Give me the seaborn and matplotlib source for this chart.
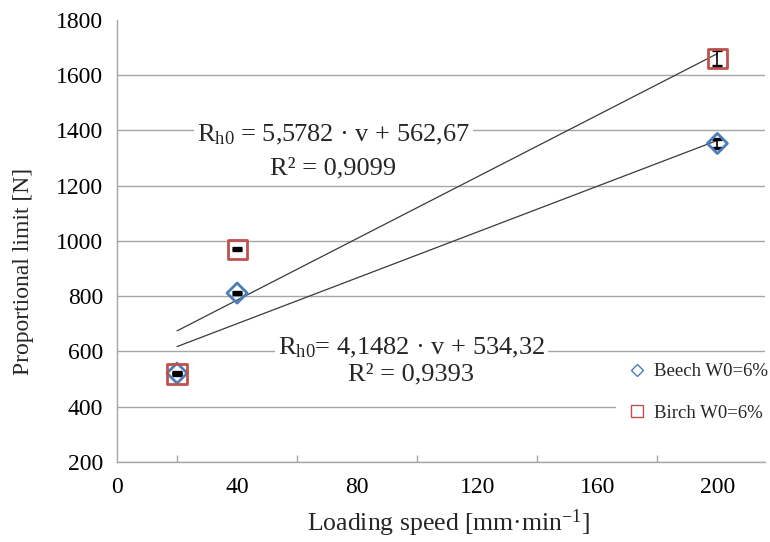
import numpy as np
import pandas as pd
import matplotlib
matplotlib.use("Agg")
import matplotlib.pyplot as plt
import seaborn as sns
from matplotlib.lines import Line2D

# Measured proportional limit at each loading speed
speed = [20, 40, 200]
beech = [521, 811, 1353]
birch = [518, 970, 1662]
beech_err = [4, 4, 15]
birch_err = [4, 4, 30]

# Linear trend coefficients (slope, intercept) and labels
beech_fit = (4.1482, 534.32)
birch_fit = (5.5782, 562.67)
beech_eq = ["R$_{\\mathrm{h0}}$= 4,1482 · v + 534,32", "R² = 0,9393"]
birch_eq = ["R$_{\\mathrm{h0}}$ = 5,5782 · v + 562,67", "R² = 0,9099"]

series_names = ["Beech W0=6%", "Birch W0=6%"]
series_colors = ["#4a7ebb", "#c0504d"]
x_ticks = [0, 40, 80, 120, 160, 200]
x_minor = [20, 60, 100, 140, 180]
y_ticks = [200, 400, 600, 800, 1000, 1200, 1400, 1600, 1800]

sns.set_theme(style="white")
plt.rcParams["font.family"] = ["Liberation Serif", "DejaVu Serif"]
plt.rcParams["mathtext.fontset"] = "custom"
plt.rcParams["mathtext.rm"] = "Liberation Serif"
plt.rcParams["mathtext.it"] = "Liberation Serif:italic"

df_beech = pd.DataFrame({"speed": speed, "value": beech})
df_birch = pd.DataFrame({"speed": speed, "value": birch})

fig = plt.figure(figsize=(7.7, 5.42), dpi=100)
ax = fig.add_axes([0.152, 0.148, 0.842, 0.815])

grid_c = "#a6a6a6"
ax.set_axisbelow(True)
ax.yaxis.grid(True, color=grid_c, linewidth=1.0)
ax.xaxis.grid(False)

# Trend lines from the fitted equations
xs = np.array([speed[0], speed[-1]])
for (m, b) in (birch_fit, beech_fit):
    sns.lineplot(x=xs, y=m * xs + b, ax=ax, color="#3a3a3a", linewidth=0.9, zorder=3)

# Error bars
for vals, errs in ((beech, beech_err), (birch, birch_err)):
    ax.errorbar(speed, vals, yerr=errs, fmt="none", ecolor="black",
                elinewidth=1.2, capsize=3.5, capthick=2.4, zorder=4)

# Hollow markers
sns.scatterplot(data=df_beech, x="speed", y="value", marker="D", s=105,
                facecolors="none", edgecolor=series_colors[0], linewidth=2.0,
                ax=ax, zorder=5, legend=False)
sns.scatterplot(data=df_birch, x="speed", y="value", marker="s", s=190,
                facecolors="none", edgecolor=series_colors[1], linewidth=2.0,
                ax=ax, zorder=5, legend=False)
for coll, c in zip(ax.collections[-2:], series_colors):
    coll.set_facecolor("none")
    coll.set_edgecolor(c)

# Legend
handles = [
    Line2D([], [], marker="D", linestyle="none", markersize=6,
           markerfacecolor="none", markeredgecolor=series_colors[0], markeredgewidth=1.0),
    Line2D([], [], marker="s", linestyle="none", markersize=9,
           markerfacecolor="none", markeredgecolor=series_colors[1], markeredgewidth=1.0),
]
leg = ax.legend(handles, series_names, loc="upper left",
                bbox_to_anchor=(0.770, 0.24), frameon=True, fontsize=13.5,
                handlelength=1.4, handletextpad=0.2, labelspacing=1.3,
                borderpad=0.4, borderaxespad=0, framealpha=1.0)
leg.get_frame().set_edgecolor("white")
leg.get_frame().set_facecolor("white")
leg.get_frame().set_linewidth(0)

# Equation labels
bbox = dict(facecolor="white", edgecolor="none", pad=2)
ax.text(72, 1384, birch_eq[0], ha="center", va="center", fontsize=19,
        bbox=bbox, zorder=6)
ax.text(72, 1261, birch_eq[1], ha="center", va="center", fontsize=19, zorder=6)
ax.text(98, 614, beech_eq[0], ha="center", va="center", fontsize=19,
        bbox=bbox, zorder=6)
ax.text(98, 515, beech_eq[1], ha="center", va="center", fontsize=19, zorder=6)

ax.set_xlim(0, 216)
ax.set_ylim(200, 1800)
ax.set_xticks(x_ticks)
ax.set_xticks(x_minor, minor=True)
ax.set_yticks(y_ticks)
ax.yaxis.get_gridlines()[-1].set_visible(False)
ax.tick_params(axis="both", labelsize=17, colors="black")
ax.tick_params(axis="y", direction="out", length=6, color=grid_c, width=1, pad=4)
ax.tick_params(axis="x", which="major", direction="inout", length=10, color=grid_c, width=1, pad=6)
ax.tick_params(axis="x", which="minor", direction="in", length=5, color=grid_c, width=1, bottom=True)

for s in ("top", "right"):
    ax.spines[s].set_visible(False)
for s in ("left", "bottom"):
    ax.spines[s].set_color(grid_c)
    ax.spines[s].set_linewidth(1.0)

ax.set_xlabel("Loading speed [mm·min$^{\\mathrm{-1}}$]", fontsize=18.5)
ax.set_ylabel("Proportional limit [N]", fontsize=17)
ax.xaxis.set_label_coords(0.511, -0.103)
ax.yaxis.set_label_coords(-0.128, 0.43)

fig.savefig("out.png", dpi=100)
